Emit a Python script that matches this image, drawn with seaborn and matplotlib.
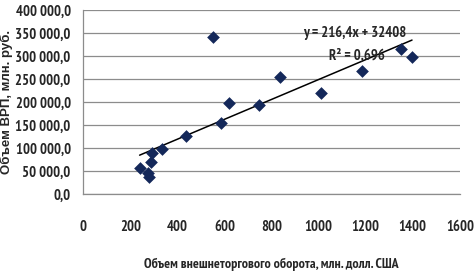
import numpy as np
import pandas as pd
import seaborn as sns
import matplotlib.pyplot as plt
from matplotlib.ticker import FuncFormatter

# data
trade = [240, 277, 280, 287, 293, 334, 437, 553, 584, 618, 747, 837, 1012, 1183, 1350, 1397]
grp = [57000, 46000, 36000, 69500, 89000, 97000, 126000, 341000, 155000, 197000,
       193000, 255000, 219000, 268000, 315000, 298000]
slope = 216.4
intercept = 32408
r2 = 0.696

sns.set_style("whitegrid")
plt.rcParams['font.family'] = ['PT Sans Narrow', 'DejaVu Sans']

fig = plt.figure(figsize=(4.75, 2.72), dpi=100)
ax = fig.add_axes([0.175, 0.287, 0.793, 0.676])

df = pd.DataFrame({"x": trade, "y": grp})
sns.scatterplot(data=df, x="x", y="y", marker="D", s=42, color="#14285a",
                edgecolor="#14285a", linewidth=0, ax=ax, zorder=3)

xs = np.array([min(trade), max(trade)])
trend = pd.DataFrame({"x": xs, "y": slope * xs + intercept})
sns.lineplot(data=trend, x="x", y="y", color="black", linewidth=1.1, ax=ax, zorder=2)

ax.set_xlim(0, 1600)
ax.set_ylim(0, 400000)
ax.set_xticks(range(0, 1601, 200))
ax.set_yticks(range(0, 400001, 50000))
ax.yaxis.set_major_formatter(FuncFormatter(
    lambda v, p: f"{v:,.1f}".replace(",", " ").replace(".", ",")))

ax.grid(axis="x", visible=False)
ax.grid(axis="y", color="#8c8c8c", linewidth=0.9)
for s in ["top", "right"]:
    ax.spines[s].set_visible(False)
for s in ["left", "bottom"]:
    ax.spines[s].set_visible(True)
    ax.spines[s].set_color("#8c8c8c")
    ax.spines[s].set_linewidth(0.9)

ax.tick_params(axis="x", length=0, pad=19, labelsize=10.5)
ax.tick_params(axis="y", length=0, pad=9, labelsize=10.5)
for lab in ax.get_xticklabels() + ax.get_yticklabels():
    lab.set_fontweight("bold")

ax.set_xlabel("Объем внешнеторгового оборота, млн. долл. США",
              fontsize=10, fontweight="bold")
ax.xaxis.set_label_coords(0.5, -0.345)
ax.set_ylabel("Объем ВРП, млн. руб.", family=["Liberation Sans", "DejaVu Sans"],
              fontsize=9.5, fontweight="bold")
ax.yaxis.set_label_coords(-0.185, 0.5)

ax.text(1152, 350000, f"y = {slope:.1f}x + {intercept}".replace(".", ","),
        fontsize=10.5, fontweight="bold", va="center", ha="center")
ax.text(1163, 300000, f"R² = {r2:.3f}".replace(".", ","),
        fontsize=10.5, fontweight="bold", va="center", ha="center")

fig.savefig("out.png", dpi=100)
